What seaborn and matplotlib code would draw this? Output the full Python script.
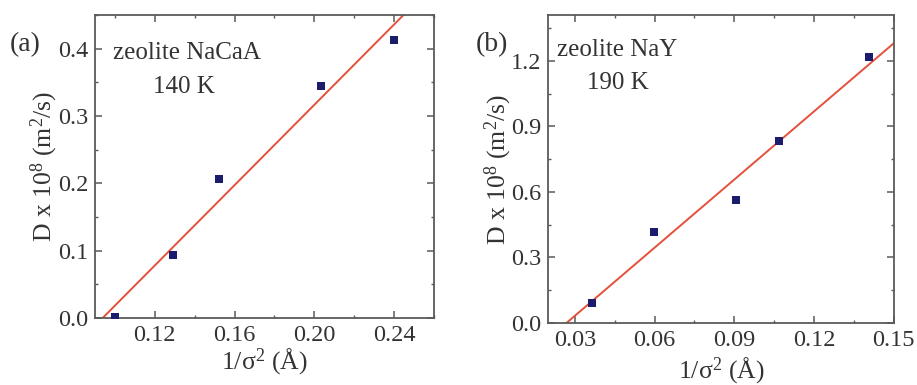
import matplotlib
matplotlib.use("Agg")
import matplotlib.pyplot as plt
from matplotlib.ticker import MultipleLocator, FormatStrFormatter
import seaborn as sns
import pandas as pd

# Data
x_a = [0.100, 0.129, 0.152, 0.2035, 0.240]
y_a = [0.002, 0.094, 0.206, 0.345, 0.413]
x_b = [0.0364, 0.0599, 0.0905, 0.1067, 0.1406]
y_b = [0.091, 0.416, 0.564, 0.831, 1.217]

xticks_a = [0.12, 0.16, 0.20, 0.24]
yticks_a = [0.0, 0.1, 0.2, 0.3, 0.4]
xticks_b = [0.03, 0.06, 0.09, 0.12, 0.15]
yticks_b = [0.0, 0.3, 0.6, 0.9, 1.2]

sns.set_theme(style="ticks")
plt.rcParams['font.family'] = ['Liberation Serif', 'DejaVu Serif']
plt.rcParams['mathtext.fontset'] = 'custom'
plt.rcParams['mathtext.rm'] = 'Liberation Serif'
plt.rcParams['mathtext.it'] = 'Liberation Serif:italic'

MARK = "#1c1c6e"
LINE = "#e4503a"
SPINE = "#5a5a5a"
TXT = "#333333"

fig = plt.figure(figsize=(9.17, 3.85), dpi=100)
ax_a = fig.add_axes([0.1036, 0.174, 0.3697, 0.787])
ax_b = fig.add_axes([0.598, 0.161, 0.3766, 0.800])


def style(ax, xlim, ylim, xt, yt, xminor, yminor, xfmt, yfmt):
    ax.set_xlim(*xlim)
    ax.set_ylim(*ylim)
    ax.set_xticks(xt)
    ax.set_yticks(yt)
    ax.xaxis.set_minor_locator(MultipleLocator(xminor))
    ax.yaxis.set_minor_locator(MultipleLocator(yminor))
    ax.xaxis.set_major_formatter(FormatStrFormatter(xfmt))
    ax.yaxis.set_major_formatter(FormatStrFormatter(yfmt))
    ax.tick_params(which='both', direction='in', top=True, right=True,
                   colors=SPINE, labelcolor=TXT, labelsize=17.5)
    ax.tick_params(which='major', length=5, width=1.1, pad=5)
    ax.tick_params(which='minor', length=2.5, width=1.0)
    for s in ax.spines.values():
        s.set_visible(True)
        s.set_color(SPINE)
        s.set_linewidth(1.3)


def panel(ax, x, y, xlim, ylim, xt, yt, xminor, yminor, xfmt, yfmt, xpad):
    style(ax, xlim, ylim, xt, yt, xminor, yminor, xfmt, yfmt)
    df = pd.DataFrame({"x": x, "y": y})
    sns.regplot(data=df, x="x", y="y", ax=ax, ci=None, truncate=False,
                scatter=False, line_kws=dict(color=LINE, lw=1.4, zorder=2))
    sns.scatterplot(data=df, x="x", y="y", ax=ax, marker='s', s=26,
                    color=MARK, edgecolor=MARK, linewidth=0, zorder=3)
    ax.set_xlim(*xlim)
    ax.set_ylim(*ylim)
    ax.set_xlabel("1/σ$^2$ (Å)", fontsize=18.5, color=TXT, labelpad=xpad)
    ax.set_ylabel("D x 10$^8$ (m$^2$/s)", fontsize=18.5, color=TXT, labelpad=-2)


panel(ax_a, x_a, y_a, (0.09, 0.26), (0.0, 0.45), xticks_a, yticks_a,
      0.02, 0.05, '%.2f', '%.1f', 0)
panel(ax_b, x_b, y_b, (0.02, 0.15), (0.0, 1.41), xticks_b, yticks_b,
      0.015, 0.15, '%.2f', '%.1f', 3)

fig.text(0.027, 0.883, "(a)", fontsize=20, color=TXT, ha='center', va='center')
fig.text(0.537, 0.883, "(b)", fontsize=20, color=TXT, ha='center', va='center')
fig.text(0.123, 0.862, "zeolite NaCaA", fontsize=18, color=TXT, ha='left', va='center')
fig.text(0.167, 0.774, "140 K", fontsize=18, color=TXT, ha='left', va='center')
fig.text(0.607, 0.870, "zeolite NaY", fontsize=18, color=TXT, ha='left', va='center')
fig.text(0.640, 0.784, "190 K", fontsize=18, color=TXT, ha='left', va='center')

fig.savefig("out.png", dpi=100, facecolor="white")
